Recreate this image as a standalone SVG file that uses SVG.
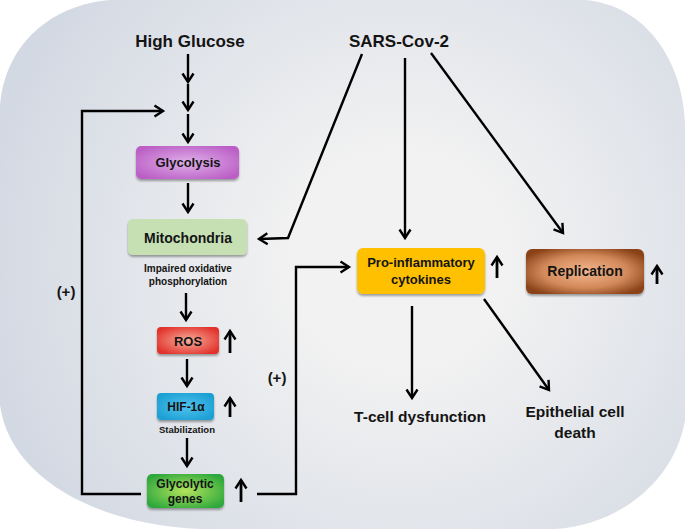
<svg xmlns="http://www.w3.org/2000/svg" width="685" height="529" viewBox="0 0 685 529">
<defs>
<radialGradient id="bg" cx="400" cy="260" r="420" gradientUnits="userSpaceOnUse">
<stop offset="0.25" stop-color="#f2f2f2"/>
<stop offset="1" stop-color="#d3d9e3"/>
</radialGradient>
<radialGradient id="gPurple" cx="0.5" cy="0.5" r="0.6"><stop offset="0" stop-color="#dfb0e8"/><stop offset="1" stop-color="#bb5fc6"/></radialGradient>
<radialGradient id="gRed" cx="0.5" cy="0.5" r="0.6"><stop offset="0" stop-color="#f6ae9c"/><stop offset="1" stop-color="#e2302a"/></radialGradient>
<radialGradient id="gBlue" cx="0.5" cy="0.5" r="0.6"><stop offset="0" stop-color="#52c2ee"/><stop offset="1" stop-color="#1b9fd3"/></radialGradient>
<radialGradient id="gGreen" cx="0.5" cy="0.5" r="0.6"><stop offset="0" stop-color="#b4e45c"/><stop offset="1" stop-color="#2ea83c"/></radialGradient>
<radialGradient id="gBrown" cx="0.5" cy="0.5" r="0.6"><stop offset="0" stop-color="#f4b68e"/><stop offset="0.6" stop-color="#d2895a"/><stop offset="1" stop-color="#8a4218"/></radialGradient>
<filter id="sh" x="-10%" y="-10%" width="120%" height="130%">
<feDropShadow dx="0" dy="2" stdDeviation="1.2" flood-color="#000" flood-opacity="0.35"/>
</filter>
<marker id="ah" markerWidth="14" markerHeight="14" refX="11" refY="7" orient="auto" markerUnits="userSpaceOnUse">
<path d="M2.5,1.5 L11,7 L2.5,12.5" fill="none" stroke="#000" stroke-width="2.4"/>
</marker>
</defs>
<style>
text{font-family:"Liberation Sans",Arial,sans-serif;font-weight:bold;fill:#141414;text-anchor:middle}
.ln{fill:none;stroke:#000;stroke-width:2.4}
.arr{marker-end:url(#ah)}
.up{fill:none;stroke:#000;stroke-width:2.8;marker-end:url(#ah)}
.box{filter:url(#sh)}
</style>
<path d="M110,0 H585 C645,5 683,60 685,125 V420 C675,480 620,525 555,529 H200 C100,525 10,480 0,405 V105 C5,45 50,5 110,0 Z" fill="url(#bg)"/>

<g id="high-glucose"><text x="190" y="47" font-size="17">High Glucose</text></g>
<g id="sars-cov-2"><text x="399" y="47" font-size="17">SARS-Cov-2</text></g>

<g id="glycolysis"><rect class="box" x="136" y="146" width="103" height="33" rx="5" fill="url(#gPurple)"/><text x="188" y="167" font-size="13">Glycolysis</text></g>

<g id="mitochondria"><rect class="box" x="128" y="219" width="119" height="36" rx="5" fill="#c6e0b4"/><text x="188" y="243" font-size="14">Mitochondria</text>
<text x="188" y="272" font-size="10">Impaired oxidative</text><text x="188" y="285" font-size="10">phosphorylation</text></g>

<g id="ros"><rect class="box" x="157" y="327" width="62" height="27" rx="4" fill="url(#gRed)"/><text x="188" y="346" font-size="13">ROS</text></g>

<g id="hif"><rect class="box" x="157" y="393" width="57" height="27" rx="4" fill="url(#gBlue)"/><text x="186" y="411" font-size="12">HIF-1α</text>
<text x="187" y="433" font-size="9.5">Stabilization</text></g>

<g id="glycolytic-genes"><rect class="box" x="147" y="474" width="77" height="34" rx="5" fill="url(#gGreen)"/><text x="185" y="488" font-size="12">Glycolytic</text><text x="185" y="503" font-size="12">genes</text></g>

<g id="pro-inflammatory"><rect class="box" x="357" y="248" width="128" height="46" rx="6" fill="#ffc000"/><text x="421" y="267" font-size="13">Pro-inflammatory</text><text x="421" y="284" font-size="13">cytokines</text></g>

<g id="replication"><rect class="box" x="526" y="249" width="118" height="45" rx="6" fill="url(#gBrown)"/><text x="585" y="276" font-size="14">Replication</text></g>

<g id="t-cell"><text x="420" y="422" font-size="15.5">T-cell dysfunction</text></g>
<g id="epithelial"><text x="575" y="417" font-size="15.5">Epithelial cell</text><text x="575" y="438" font-size="15.5">death</text></g>

<g id="plus-labels"><text x="66" y="297" font-size="15">(+)</text><text x="277" y="383" font-size="15">(+)</text></g>

<g id="connectors">
<line class="ln arr" x1="188" y1="54" x2="188" y2="82"/>
<line class="ln arr" x1="188" y1="84" x2="188" y2="110"/>
<line class="ln arr" x1="188" y1="114" x2="188" y2="142"/>
<polyline class="ln arr" points="141,494 82,494 82,111 163,111"/>
<line class="ln arr" x1="188" y1="183" x2="188" y2="212"/>
<line class="ln arr" x1="186" y1="293" x2="186" y2="320"/>
<line class="ln arr" x1="187" y1="359" x2="187" y2="386"/>
<line class="ln arr" x1="187" y1="438" x2="187" y2="466"/>
<polyline class="ln arr" points="257,494 296,494 296,267 349,267"/>
<polyline class="ln arr" points="362,54 288,238 259,239"/>
<line class="ln arr" x1="405" y1="58" x2="405" y2="238"/>
<line class="ln arr" x1="431" y1="53" x2="563" y2="233"/>
<line class="ln arr" x1="412" y1="306" x2="412" y2="398"/>
<line class="ln arr" x1="484" y1="299" x2="549" y2="390"/>
<line class="up" x1="230" y1="353" x2="230" y2="331"/>
<line class="up" x1="230" y1="417" x2="230" y2="398"/>
<line class="up" x1="241" y1="502" x2="241" y2="480"/>
<line class="up" x1="497" y1="278" x2="497" y2="257"/>
<line class="up" x1="657" y1="284" x2="657" y2="266"/>
</g>
</svg>
